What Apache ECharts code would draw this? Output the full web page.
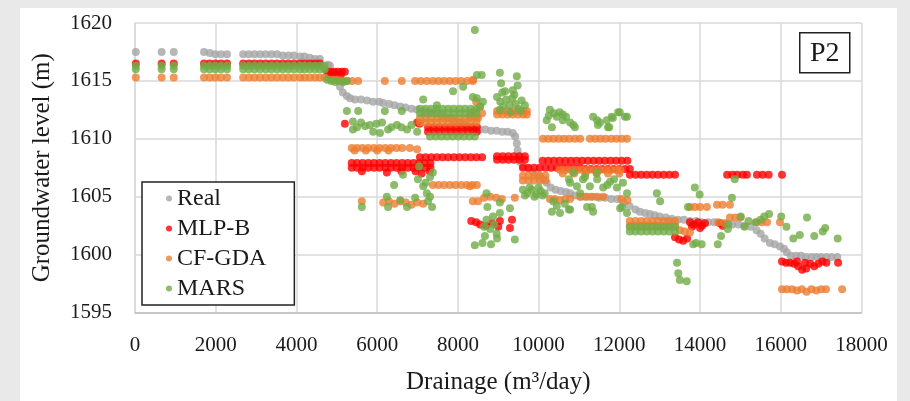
<!DOCTYPE html>
<html>
<head>
<meta charset="utf-8">
<script src="https://cdn.jsdelivr.net/npm/echarts@6/dist/echarts.min.js"></script>
<style>
  body { margin: 0; background: #e9e9e9; }
  #paper { position: absolute; left: 20px; top: 8px; width: 877px; height: 393px; background: #fff; }
  #chart { position: absolute; left: 0; top: 0; width: 910px; height: 401px; }
</style>
</head>
<body>
<div id="paper"></div>
<div id="chart"></div>
<script>
const xTicks = [0, 2000, 4000, 6000, 8000, 10000, 12000, 14000, 16000, 18000];
const yTicks = [1595, 1600, 1605, 1610, 1615, 1620];
const seriesNames = ['Real', 'MLP-B', 'CF-GDA', 'MARS'];

const realData = [
  [20, 1617.5], [660, 1617.5], [960, 1617.5],
  [1710, 1617.5], [1850, 1617.4], [1990, 1617.3], [2130, 1617.3], [2280, 1617.3],
  [2680, 1617.3], [2820, 1617.3], [2960, 1617.3], [3100, 1617.3], [3240, 1617.3], [3380, 1617.3],
  [3520, 1617.3], [3660, 1617.2], [3800, 1617.2], [3940, 1617.2], [4090, 1617.1], [4200, 1617.1],
  [4330, 1617.0], [4460, 1616.9], [4580, 1616.9], [4780, 1616.4],
  [4830, 1616.3], [4910, 1615.7], [4990, 1615.1], [5080, 1614.5], [5150, 1614.0], [5250, 1613.7],
  [5330, 1613.5], [5450, 1613.4], [5600, 1613.4], [5750, 1613.3], [5900, 1613.2], [6050, 1613.2],
  [6150, 1613.1], [6300, 1613.0], [6430, 1612.9], [6570, 1612.8], [6700, 1612.7], [6850, 1612.6],
  [6990, 1612.5], [7150, 1612.4], [7300, 1612.3], [7450, 1612.2], [7600, 1612.0], [7750, 1611.8],
  [7900, 1611.6], [8050, 1611.4], [8200, 1611.2], [8350, 1611.0],
  [8540, 1610.8], [8680, 1610.8], [8820, 1610.7], [8960, 1610.7], [9100, 1610.6], [9230, 1610.6],
  [9360, 1610.5], [9420, 1610.2], [9460, 1609.6], [9480, 1609.0], [9510, 1608.5], [9540, 1608.0],
  [9620, 1607.6], [9750, 1607.4], [9880, 1607.1], [10000, 1606.8], [10100, 1606.5], [10200, 1606.2],
  [10300, 1605.8], [10420, 1605.6], [10550, 1605.5], [10680, 1605.4], [10780, 1605.3],
  [10900, 1605.1], [11050, 1605.0], [11200, 1605.0], [11350, 1605.0], [11500, 1604.9], [11650, 1604.9],
  [11800, 1604.8], [11950, 1604.8], [12100, 1604.5], [12250, 1604.2], [12400, 1603.9], [12510, 1603.7],
  [12640, 1603.6], [12760, 1603.5], [12880, 1603.4], [13000, 1603.3], [13150, 1603.2], [13300, 1603.1],
  [13450, 1603.0], [13600, 1603.0], [13750, 1602.9], [13900, 1602.9], [14050, 1602.8], [14200, 1602.8],
  [14350, 1602.8], [14500, 1602.7], [14650, 1602.7], [14800, 1602.6], [14950, 1602.6], [15100, 1602.5],
  [15250, 1602.4], [15400, 1602.1], [15500, 1601.8], [15600, 1601.4], [15730, 1601.0], [15850, 1600.9],
  [15980, 1600.7], [16080, 1600.5], [16150, 1600.2],
  [16250, 1599.9], [16380, 1599.9], [16500, 1599.9], [16630, 1599.8], [16760, 1599.8], [16880, 1599.8],
  [17000, 1599.8], [17130, 1599.8], [17260, 1599.8], [17400, 1599.8]
];

const mlpData = [
  [20, 1616.5], [660, 1616.5], [960, 1616.5], [1710, 1616.5], [1850, 1616.5], [1990, 1616.5],
  [2130, 1616.5], [2280, 1616.5], [2680, 1616.5], [2820, 1616.5], [2960, 1616.5], [3100, 1616.5],
  [3240, 1616.5], [3380, 1616.5], [3520, 1616.5], [3660, 1616.5], [3800, 1616.5], [3940, 1616.5],
  [4090, 1616.5], [4200, 1616.5], [4330, 1616.5], [4460, 1616.5], [4580, 1616.5],
  [4760, 1615.8], [4850, 1615.8], [4940, 1615.8], [5030, 1615.8], [5120, 1615.8], [5200, 1615.8],
  [4800, 1615.5], [4950, 1615.5], [5100, 1615.5],
  [5200, 1611.3], [6990, 1611.4], [7050, 1611.3],
  [7260, 1611.0], [7400, 1611.0], [7540, 1611.0], [7680, 1611.0], [7820, 1611.0], [7960, 1611.0],
  [8100, 1611.0], [8240, 1611.0], [8380, 1611.0], [8470, 1611.0],
  [7260, 1610.6], [7400, 1610.6], [7540, 1610.6], [7680, 1610.6], [7820, 1610.6], [7960, 1610.6],
  [8100, 1610.6], [8240, 1610.6], [8380, 1610.6], [8470, 1610.6],
  [5370, 1607.9], [5500, 1607.9], [5640, 1607.9], [5780, 1607.9], [5920, 1607.9], [6060, 1607.9],
  [6200, 1607.9], [6340, 1607.9], [6480, 1607.9], [6620, 1607.9], [6760, 1607.9], [6900, 1607.9],
  [7040, 1607.9], [7180, 1607.9], [7320, 1607.9],
  [5370, 1607.5], [5500, 1607.5], [5640, 1607.5], [5780, 1607.5], [5920, 1607.5], [6060, 1607.5],
  [6200, 1607.5], [6340, 1607.5], [6480, 1607.5], [6620, 1607.5], [6760, 1607.5], [6900, 1607.5],
  [7040, 1607.5], [7180, 1607.5], [7320, 1607.5],
  [5620, 1607.2], [6240, 1607.1], [6600, 1607.2], [6950, 1607.2], [7100, 1607.0], [7300, 1607.2],
  [7060, 1608.4], [7200, 1608.4], [7340, 1608.4], [7480, 1608.4], [7620, 1608.4], [7760, 1608.4],
  [7900, 1608.4], [8040, 1608.4], [8180, 1608.4], [8320, 1608.4], [8460, 1608.4], [8600, 1608.4],
  [8970, 1608.5], [9110, 1608.5], [9250, 1608.5], [9390, 1608.5], [9530, 1608.5], [9660, 1608.5],
  [8970, 1608.2], [9110, 1608.2], [9250, 1608.2], [9390, 1608.2], [9530, 1608.2], [9660, 1608.2],
  [8330, 1602.9], [8450, 1602.8], [8550, 1602.6], [8700, 1602.5], [8850, 1602.7], [9000, 1602.4],
  [9040, 1602.9], [9340, 1603.0], [9290, 1602.3],
  [9610, 1607.5], [9750, 1607.5], [9890, 1607.5], [10030, 1607.5], [10170, 1607.5], [10310, 1607.5],
  [10450, 1607.5], [10590, 1607.5], [10730, 1607.5], [10870, 1607.5], [11020, 1607.5],
  [10100, 1608.1], [10240, 1608.1], [10380, 1608.1], [10520, 1608.1], [10660, 1608.1], [10800, 1608.1],
  [10940, 1608.1], [11080, 1608.1], [11220, 1608.1], [11360, 1608.1], [11500, 1608.1], [11640, 1608.1],
  [11780, 1608.1], [11920, 1608.1], [12060, 1608.1], [12200, 1608.1],
  [11160, 1607.4], [11300, 1607.4], [11440, 1607.4], [11580, 1607.4], [11720, 1607.4], [11860, 1607.4],
  [12000, 1607.4], [12140, 1607.4], [12260, 1607.4],
  [12260, 1606.9], [12400, 1606.9], [12540, 1606.9], [12680, 1606.9], [12820, 1606.9], [12960, 1606.9],
  [13100, 1606.9], [13240, 1606.9], [13380, 1606.9],
  [14670, 1606.9], [14800, 1606.9], [14920, 1606.9], [15060, 1606.9], [15160, 1606.9],
  [15410, 1606.9], [15550, 1606.9], [15700, 1606.9], [16030, 1606.9],
  [13750, 1602.8], [13850, 1602.6], [13950, 1602.8], [14050, 1602.5], [14120, 1602.7], [13800, 1602.4],
  [14000, 1602.3], [13380, 1601.5], [13480, 1601.3], [13580, 1601.2], [13680, 1601.4],
  [14500, 1602.7], [14560, 1602.5],
  [16030, 1599.4], [16130, 1599.3], [16230, 1599.3], [16330, 1599.2], [16430, 1599.0], [16530, 1598.7],
  [16630, 1598.8], [16730, 1599.2], [16830, 1599.0], [16930, 1599.2], [17030, 1599.4], [17130, 1599.3],
  [17420, 1599.3], [16600, 1599.3], [16400, 1599.4]
];

const cfData = [
  [20, 1615.3], [660, 1615.3], [960, 1615.3], [1710, 1615.3], [1850, 1615.3], [1990, 1615.3],
  [2130, 1615.3], [2280, 1615.3], [2680, 1615.3], [2820, 1615.3], [2960, 1615.3], [3100, 1615.3],
  [3240, 1615.3], [3380, 1615.3], [3520, 1615.3], [3660, 1615.3], [3800, 1615.3], [3940, 1615.3],
  [4090, 1615.3], [4200, 1615.3], [4330, 1615.3], [4460, 1615.3], [4580, 1615.3], [4700, 1615.3],
  [4880, 1615.1], [5000, 1615.1], [5130, 1615.0], [5250, 1615.0], [5380, 1615.0], [5530, 1615.0],
  [6190, 1615.0], [6610, 1615.0], [6940, 1615.0], [7080, 1615.0], [7230, 1615.0], [7380, 1615.0],
  [7520, 1615.0], [7660, 1615.0], [7800, 1615.0], [7940, 1615.0], [8080, 1615.0], [8230, 1615.0],
  [8370, 1615.0],
  [7060, 1611.8], [7200, 1611.8], [7340, 1611.8], [7480, 1611.8], [7620, 1611.8], [7760, 1611.8],
  [7900, 1611.8], [8040, 1611.8], [8180, 1611.8], [8320, 1611.8], [8460, 1611.8],
  [7060, 1611.4], [7200, 1611.4], [7340, 1611.4], [7480, 1611.4], [7620, 1611.4], [7760, 1611.4],
  [7900, 1611.4], [8040, 1611.4], [8180, 1611.4], [8320, 1611.4], [8460, 1611.4],
  [8970, 1612.4], [9100, 1612.4], [9230, 1612.4], [9360, 1612.4], [9490, 1612.4], [9620, 1612.4], [9710, 1612.4],
  [8970, 1612.1], [9100, 1612.1], [9230, 1612.1], [9360, 1612.1], [9490, 1612.1], [9620, 1612.1], [9710, 1612.1],
  [8300, 1612.0], [8400, 1612.4], [8500, 1611.8], [8600, 1612.2], [8380, 1615.1], [8450, 1613.2], [8550, 1612.8],
  [5370, 1609.2], [5500, 1609.2], [5640, 1609.2], [5780, 1609.2], [5920, 1609.2], [6060, 1609.2],
  [6200, 1609.2], [6340, 1609.2], [6480, 1609.2], [6620, 1609.2], [6810, 1609.2], [6990, 1609.1],
  [5440, 1609.0], [5720, 1609.0], [6000, 1609.0], [6280, 1609.0],
  [7380, 1606.0], [7520, 1606.0], [7660, 1606.0], [7800, 1606.0], [7940, 1606.0], [8080, 1606.0],
  [8220, 1606.0], [8360, 1606.0], [8470, 1606.0],
  [5620, 1604.6], [6150, 1604.5], [6290, 1604.6], [6430, 1604.4], [6570, 1604.6], [6710, 1604.5],
  [6850, 1604.3], [6990, 1604.5], [7140, 1604.4],
  [8370, 1604.6], [8500, 1604.6], [8650, 1604.9], [8800, 1605.0], [8950, 1604.9], [9090, 1604.8],
  [9410, 1604.9], [8300, 1605.9],
  [10110, 1610.0], [10240, 1610.0], [10370, 1610.0], [10500, 1610.0], [10630, 1610.0], [10760, 1610.0],
  [10900, 1610.0], [11030, 1610.0], [11270, 1610.0], [11400, 1610.0], [11530, 1610.0], [11660, 1610.0],
  [11800, 1610.0], [11930, 1610.0], [12060, 1610.0], [12190, 1610.0],
  [9610, 1606.8], [9750, 1606.8], [9890, 1606.8], [10030, 1606.8], [10170, 1606.8],
  [9610, 1606.4], [9750, 1606.4], [9890, 1606.4], [10030, 1606.4], [10170, 1606.4],
  [10530, 1607.3], [10670, 1607.3], [10810, 1607.3], [10950, 1607.3], [11090, 1607.3], [11230, 1607.3],
  [11370, 1607.3], [11510, 1607.3], [11650, 1607.3], [11790, 1607.3], [11930, 1607.3], [12020, 1607.3],
  [10600, 1607.0], [10880, 1607.0], [11160, 1607.0], [11440, 1607.0], [11720, 1607.0], [12000, 1607.0],
  [10280, 1604.8], [10400, 1604.8], [10530, 1604.7], [10660, 1604.8], [10780, 1604.8], [11030, 1605.0],
  [11160, 1605.0], [11300, 1605.0], [11450, 1605.0], [11600, 1605.0], [12050, 1604.8], [12200, 1604.7],
  [12260, 1602.9], [12400, 1602.9], [12540, 1602.9], [12680, 1602.9], [12820, 1602.9], [12960, 1602.9],
  [13100, 1602.9], [13240, 1602.9], [13380, 1602.9],
  [12260, 1602.5], [12400, 1602.5], [12540, 1602.5], [12680, 1602.5], [12820, 1602.5], [12960, 1602.5],
  [13100, 1602.5], [13240, 1602.5], [13380, 1602.5],
  [13500, 1602.1], [13620, 1602.0], [13750, 1601.9],
  [13750, 1604.1], [13870, 1604.1], [14000, 1604.1], [14170, 1604.1], [14420, 1604.3], [14560, 1604.3],
  [14740, 1604.3], [14740, 1603.2], [14870, 1603.2], [15000, 1603.2], [14450, 1602.8], [14600, 1602.7],
  [15400, 1602.8], [15530, 1602.8], [15660, 1602.8], [15980, 1602.8],
  [16030, 1597.0], [16150, 1597.0], [16280, 1597.0], [16400, 1596.9], [16520, 1597.0], [16640, 1596.8],
  [16760, 1597.0], [16880, 1596.9], [17000, 1597.0], [17120, 1597.0], [17520, 1597.0]
];

const marsData = [
  [20, 1616.3], [660, 1616.3], [960, 1616.3], [1710, 1616.3], [1850, 1616.3], [1990, 1616.3],
  [2130, 1616.3], [2280, 1616.3], [2680, 1616.3], [2820, 1616.3], [2960, 1616.3], [3100, 1616.3],
  [3240, 1616.3], [3380, 1616.3], [3520, 1616.3], [3660, 1616.3], [3800, 1616.3], [3940, 1616.3],
  [4090, 1616.3], [4200, 1616.3], [4330, 1616.3], [4460, 1616.3], [4580, 1616.3], [4700, 1616.3],
  [20, 1616.0], [660, 1616.0], [960, 1616.0], [1710, 1616.0], [1850, 1616.0], [1990, 1616.0],
  [2130, 1616.0], [2280, 1616.0], [2680, 1616.0], [2820, 1616.0], [2960, 1616.0], [3100, 1616.0],
  [3240, 1616.0], [3380, 1616.0], [3520, 1616.0], [3660, 1616.0], [3800, 1616.0], [3940, 1616.0],
  [4090, 1616.0], [4200, 1616.0], [4330, 1616.0], [4460, 1616.0], [4580, 1616.0], [4700, 1616.0],
  [4760, 1615.1], [4860, 1615.0], [4960, 1614.9], [5060, 1615.0], [5160, 1614.9], [5250, 1615.0],
  [5250, 1612.4], [5530, 1612.4], [6190, 1612.4], [6610, 1612.4], [5400, 1611.5], [5500, 1611.0],
  [5700, 1611.1], [5900, 1610.6], [6070, 1610.5], [6120, 1611.4], [6270, 1610.8], [6490, 1611.2],
  [6740, 1610.8], [5400, 1610.8], [5820, 1611.2], [6990, 1610.6], [5600, 1611.4], [6350, 1611.0],
  [5980, 1611.3], [6600, 1611.0], [6850, 1611.2],
  [7140, 1613.4], [7480, 1612.9], [7880, 1614.1], [8130, 1614.5], [8470, 1615.5], [8590, 1615.5], [8420, 1619.4],
  [7060, 1612.6], [7200, 1612.6], [7340, 1612.6], [7480, 1612.6], [7620, 1612.6], [7760, 1612.6],
  [7900, 1612.6], [8040, 1612.6], [8180, 1612.6], [8320, 1612.6], [8460, 1612.6],
  [7060, 1612.2], [7200, 1612.2], [7340, 1612.2], [7480, 1612.2], [7620, 1612.2], [7760, 1612.2],
  [7900, 1612.2], [8040, 1612.2], [8180, 1612.2], [8320, 1612.2], [8460, 1612.2],
  [7310, 1610.2], [7450, 1610.2], [7590, 1610.2], [7730, 1610.2], [7870, 1610.2], [8010, 1610.2],
  [8150, 1610.2], [8290, 1610.2], [8420, 1610.2],
  [8370, 1613.6], [8470, 1613.5], [8550, 1612.8], [8620, 1613.2],
  [8970, 1613.6], [9050, 1613.2], [9120, 1612.8], [9200, 1613.4], [9280, 1612.9], [9350, 1613.5],
  [9430, 1613.0], [9500, 1612.6], [9580, 1613.3], [9660, 1612.9], [9040, 1612.5], [9300, 1612.3],
  [9550, 1612.4], [9100, 1614.0], [9400, 1613.8],
  [9040, 1615.7], [9460, 1615.4], [9070, 1614.8], [9360, 1614.2], [9170, 1614.1], [9480, 1614.6],
  [10280, 1612.5], [10450, 1611.9], [10600, 1611.6], [10780, 1611.4], [10200, 1611.6], [10900, 1611.0],
  [10330, 1611.0], [10380, 1612.2], [10520, 1612.3], [10680, 1611.9], [10250, 1612.0], [10600, 1612.1],
  [10860, 1611.2],
  [11350, 1611.9], [11470, 1611.2], [11690, 1611.6], [11720, 1611.0], [11840, 1611.8], [11970, 1612.3],
  [12140, 1611.9], [11450, 1611.6], [11520, 1611.4], [11810, 1611.9], [12010, 1612.3], [12190, 1611.9],
  [11750, 1611.0],
  [9610, 1605.6], [9720, 1605.3], [9830, 1605.6], [9940, 1605.2], [10050, 1605.5], [10150, 1605.3],
  [9660, 1605.1], [9900, 1605.0], [10100, 1605.1], [9780, 1605.8], [10000, 1605.8],
  [10360, 1604.6], [10530, 1603.6], [10780, 1603.9], [10330, 1603.7], [10450, 1604.2], [10650, 1604.4],
  [10780, 1606.2], [11100, 1606.5], [11270, 1605.9], [11450, 1606.5], [11600, 1605.8], [11770, 1606.3],
  [11940, 1605.8], [11030, 1605.3], [11200, 1604.1], [11350, 1603.7], [12070, 1604.1], [12190, 1603.6],
  [10860, 1607.1], [11440, 1607.1], [10750, 1606.5], [11150, 1606.7], [10750, 1603.9], [11320, 1604.1],
  [11870, 1606.5], [12090, 1606.2], [12190, 1605.3], [12020, 1604.0], [10950, 1605.9], [11700, 1606.0],
  [12260, 1602.4], [12400, 1602.4], [12540, 1602.4], [12680, 1602.4], [12820, 1602.4], [12960, 1602.4],
  [13100, 1602.4], [13240, 1602.4], [13380, 1602.4],
  [12260, 1602.0], [12400, 1602.0], [12540, 1602.0], [12680, 1602.0], [12820, 1602.0], [12960, 1602.0],
  [13100, 1602.0], [13240, 1602.0], [13380, 1602.0],
  [12930, 1605.3], [13010, 1604.6], [13870, 1605.8], [13990, 1605.2], [13700, 1604.1], [13830, 1600.9],
  [14040, 1600.9], [14440, 1600.9], [14520, 1601.6], [14690, 1602.2], [14790, 1604.9], [14860, 1606.5],
  [15010, 1603.3], [15100, 1602.4], [15380, 1602.8], [15590, 1603.3], [15710, 1603.5], [16010, 1603.3],
  [16140, 1602.4], [16310, 1601.4], [16470, 1601.7], [16650, 1603.2], [16830, 1601.6], [17040, 1602.0],
  [17100, 1602.3], [17410, 1601.4], [13900, 1601.0], [14700, 1602.6], [15200, 1602.9], [15500, 1603.0],
  [13430, 1599.3], [13460, 1598.4], [13500, 1597.8], [13670, 1597.7],
  [8420, 1600.8], [8670, 1601.6], [8800, 1602.2], [8960, 1601.8], [8710, 1603.0], [8870, 1603.3],
  [9040, 1603.6], [8730, 1604.1], [8610, 1601.0], [8820, 1600.9], [8970, 1601.4], [9290, 1604.0],
  [9410, 1601.3], [8710, 1605.3], [9040, 1604.5], [8650, 1602.4], [8900, 1602.6],
  [5620, 1604.1], [6240, 1605.0], [6270, 1604.1], [6420, 1606.0], [6640, 1606.9], [6570, 1604.7],
  [6740, 1604.1], [6940, 1604.9], [7010, 1606.5], [7140, 1605.9], [7230, 1605.3], [7260, 1604.6],
  [7360, 1604.1], [7310, 1606.7], [7380, 1607.1], [7040, 1607.6], [7310, 1605.0], [7200, 1606.2]
];

const colors = ['#a5a5a5', '#ff0000', '#ed7d31', '#70ad47'];
const serif = 'Liberation Serif, Times New Roman, serif';

const chart = echarts.init(document.getElementById('chart'));
const allData = [realData, mlpData, cfData, marsData];

chart.setOption({
  animation: false,
  backgroundColor: 'transparent',
  color: colors,
  grid: { left: 135, right: 48.5, top: 23, bottom: 88.5 },
  legend: {
    orient: 'vertical',
    left: 142,
    top: 182,
    data: seriesNames,
    icon: 'circle',
    itemWidth: 6,
    itemHeight: 6,
    itemGap: 3,
    padding: [3, 28, 3, 24],
    borderColor: '#222',
    borderWidth: 1.5,
    backgroundColor: '#fff',
    textStyle: { fontFamily: serif, fontSize: 24, lineHeight: 27, color: '#1a1a1a' },
    z: 10
  },
  xAxis: {
    type: 'value',
    min: xTicks[0],
    max: xTicks[xTicks.length - 1],
    interval: xTicks[1] - xTicks[0],
    name: 'Drainage (m³/day)',
    nameLocation: 'middle',
    nameGap: 57,
    nameTextStyle: { fontFamily: serif, fontSize: 25, color: '#1a1a1a' },
    axisLine: { lineStyle: { color: '#bfbfbf', width: 1.5 } },
    axisTick: { show: false },
    axisLabel: { fontFamily: serif, fontSize: 21, color: '#1a1a1a', margin: 22, formatter: (v) => String(v) },
    splitLine: { show: true, lineStyle: { color: '#d9d9d9', width: 1.5 } }
  },
  yAxis: {
    type: 'value',
    min: yTicks[0],
    max: yTicks[yTicks.length - 1],
    interval: yTicks[1] - yTicks[0],
    name: 'Groundwater level (m)',
    nameLocation: 'middle',
    nameGap: 80,
    nameTextStyle: { fontFamily: serif, fontSize: 25, color: '#1a1a1a' },
    axisLine: { show: true, lineStyle: { color: '#d9d9d9', width: 1.5 } },
    axisTick: { show: false },
    axisLabel: { fontFamily: serif, fontSize: 21, color: '#1a1a1a', margin: 23, formatter: (v) => String(v) },
    splitLine: { show: true, lineStyle: { color: '#d9d9d9', width: 1.5 } }
  },
  graphic: [
    {
      type: 'group',
      left: 799,
      top: 32,
      z: 20,
      children: [
        { type: 'rect', shape: { x: 0, y: 0, width: 50, height: 40 }, style: { fill: '#fff', stroke: '#222', lineWidth: 1.5 } },
        { type: 'text', x: 25, y: 21, style: { text: 'P2', font: '28px ' + serif, fill: '#1a1a1a', align: 'center', verticalAlign: 'middle' } }
      ]
    }
  ],
  series: seriesNames.map((name, i) => ({
    name: name,
    type: 'scatter',
    symbol: 'circle',
    symbolSize: 8,
    data: allData[i]
  }))
});
</script>
</body>
</html>
